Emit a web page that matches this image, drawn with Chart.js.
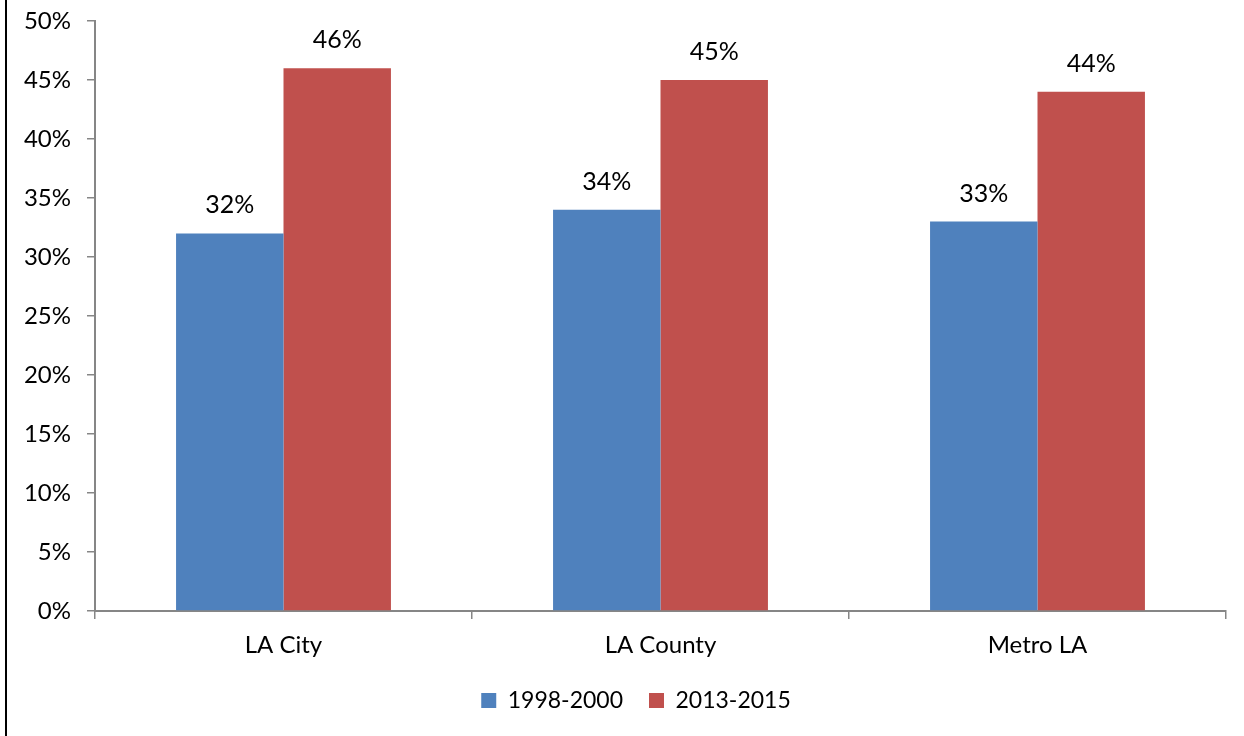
<!DOCTYPE html>
<html>
<head>
<meta charset="utf-8">
<script src="https://cdn.jsdelivr.net/npm/chart.js@4/dist/chart.umd.min.js"></script>
<style>
html,body{margin:0;padding:0;background:#fff;}
#wrap{position:absolute;left:0;top:0;width:1244px;height:736px;}
#frame{position:absolute;left:5px;top:0;width:2px;height:736px;background:#000;}
canvas{position:absolute;left:0;top:0;}
</style>
</head>
<body>
<div id="wrap">
<canvas id="c" width="1244" height="736"></canvas>
<div id="frame"></div>
</div>
<script>
const categories = ["LA City", "LA County", "Metro LA"];
const seriesNames = ["1998-2000", "2013-2015"];
const series1 = [32, 34, 33];
const series2 = [46, 45, 44];
const yTicks = [0, 5, 10, 15, 20, 25, 30, 35, 40, 45, 50];

const FONT = "Lato, 'Open Sans', sans-serif";
const axisColor = "#868686";

const labelPlugin = {
  id: "barLabels",
  afterDatasetsDraw(chart) {
    const ctx = chart.ctx;
    ctx.save();
    ctx.font = "25px " + FONT;
    ctx.fillStyle = "#000";
    ctx.textAlign = "center";
    ctx.textBaseline = "middle";
    chart.data.datasets.forEach((ds, i) => {
      chart.getDatasetMeta(i).data.forEach((bar, j) => {
        ctx.fillText(ds.data[j] + "%", bar.x, bar.y - 28);
      });
    });
    ctx.restore();
  }
};

const legendShift = {
  id: "legendShift",
  afterLayout(chart) {
    if (chart.legend) { chart.legend.left += 23; chart.legend.right += 23; }
  }
};

new Chart(document.getElementById("c"), {
  type: "bar",
  data: {
    labels: categories,
    datasets: [
      { label: seriesNames[0], data: series1, backgroundColor: "#4F81BD", borderWidth: 0 },
      { label: seriesNames[1], data: series2, backgroundColor: "#C0504D", borderWidth: 0 }
    ]
  },
  options: {
    responsive: false,
    animation: false,
    events: [],
    layout: { padding: { left: 0, right: 18, top: 21, bottom: 14 } },
    datasets: { bar: { categoryPercentage: 0.57, barPercentage: 1.0 } },
    scales: {
      x: {
        offset: true,
        grid: { display: true, offset: true, drawOnChartArea: false, color: axisColor, tickLength: 8, lineWidth: 1.5 },
        border: { display: true, color: axisColor, width: 2 },
        ticks: { color: "#000", font: { family: FONT, size: 24 }, padding: 12 },
        afterFit(s) { s.height = 52; s.paddingLeft = 0; s.paddingRight = 0; }
      },
      y: {
        min: 0, max: 50,
        afterBuildTicks(s) { s.ticks = yTicks.map(v => ({ value: v })); },
        grid: { display: true, drawOnChartArea: false, color: axisColor, tickLength: 8, lineWidth: 1.5 },
        border: { display: true, color: axisColor, width: 2 },
        ticks: { color: "#000", font: { family: FONT, size: 24 }, padding: 16, callback: v => v + "%" },
        afterFit(s) { s.width = 95; s.paddingTop = 0; s.paddingBottom = 0; }
      }
    },
    plugins: {
      legend: {
        position: "bottom",
        labels: { color: "#000", font: { family: FONT, size: 23 }, boxWidth: 15, boxHeight: 15, padding: 26 }
      },
      tooltip: { enabled: false }
    }
  },
  plugins: [labelPlugin, legendShift]
});
</script>
</body>
</html>
